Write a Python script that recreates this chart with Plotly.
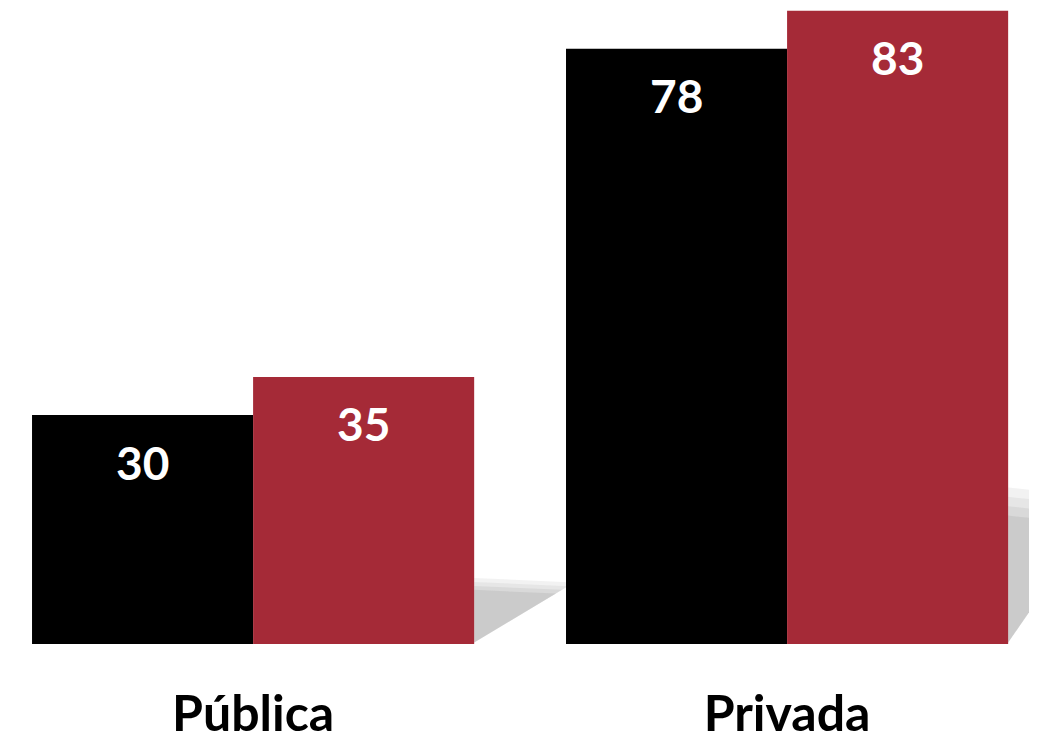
import plotly.graph_objects as go

# DATA
categories = ["Pública", "Privada"]
serie_negra = [30, 78]
serie_roja = [35, 83]

NEGRO = "#000000"
ROJO = "#A52A37"
BARGAP = 0.172
FONT = "Lato"

fig = go.Figure()

fig.add_trace(go.Bar(x=categories, y=serie_negra, marker_color=NEGRO,
                     marker_line_width=0, name="A"))
fig.add_trace(go.Bar(x=categories, y=serie_roja, marker_color=ROJO,
                     marker_line_width=0, name="B"))

# etiquetas de valor dentro de la barra, cerca del borde superior
half = (1 - BARGAP) / 4
for i, cat in enumerate(categories):
    for off, vals in ((-half, serie_negra), (half, serie_roja)):
        fig.add_annotation(x=i + off, y=vals[i], xref="x", yref="y",
                           text=f"<b>{vals[i]}</b>", showarrow=False,
                           yshift=-47, font=dict(family=FONT, size=46, color="white"))

# sombra gris difusa a la derecha de cada grupo (decorativa)
for i, cat in enumerate(categories):
    x0 = i + 2 * half
    h = serie_roja[i] * 0.24
    for k, op in enumerate([0.12, 0.12, 0.15, 0.2]):
        s = 1.0 - 0.06 * k
        fig.add_shape(type="path", xref="x", yref="y", layer="below",
                      path=(f"M {x0},0.2 L {x0},{h * (1.03 * s)} "
                            f"L {x0 + 0.17 * (1.1 * s)},{h * 0.96 * s} Z"),
                      fillcolor=f"rgba(150,150,150,{op})", line_width=0)

fig.update_layout(
    width=1037, height=746,
    barmode="group", bargap=BARGAP, bargroupgap=0,
    showlegend=False,
    plot_bgcolor="white", paper_bgcolor="white",
    margin=dict(l=0, r=0, t=0, b=110),
    font=dict(family=FONT, size=46, color="black"),
)
fig.update_xaxes(range=[-0.459, 1.483], showgrid=False, showline=False,
                 ticks="", tickfont=dict(family=FONT, size=50, color="black"),
                 ticklabelstandoff=36)
fig.update_xaxes(tickvals=categories, ticktext=[f"<b>{c}</b>" for c in categories])
fig.update_yaxes(range=[0, 83.35], visible=False)

fig.write_html("out.html")
